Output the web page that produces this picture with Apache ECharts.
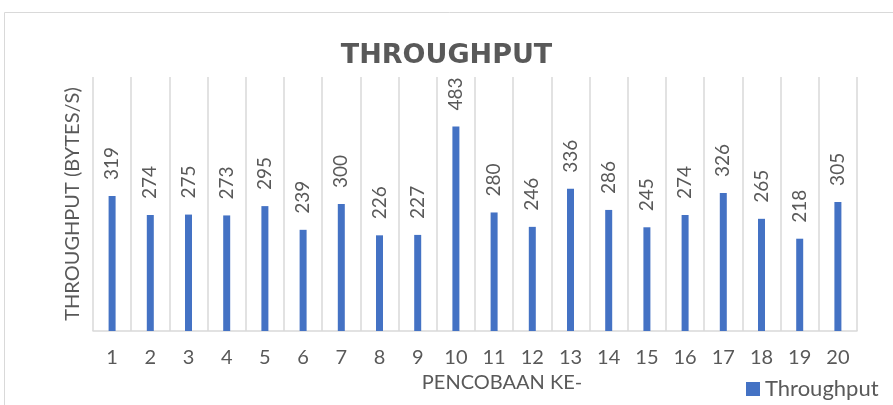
<!DOCTYPE html>
<html>
<head>
<meta charset="utf-8">
<script src="https://cdn.jsdelivr.net/npm/echarts@6/dist/echarts.min.js"></script>
<style>
  html, body { margin: 0; padding: 0; background: #fff; }
  #chart { width: 893px; height: 405px; }
</style>
</head>
<body>
<div id="chart"></div>
<script>
// data
var categories = ['1','2','3','4','5','6','7','8','9','10','11','12','13','14','15','16','17','18','19','20'];
var throughput = [319, 274, 275, 273, 295, 239, 300, 226, 227, 483, 280, 246, 336, 286, 245, 274, 326, 265, 218, 305];

var gray = '#595959';
var lineGray = '#d9d9d9';

var chart = echarts.init(document.getElementById('chart'));

var option = {
    animation: false,
    backgroundColor: '#fff',
    graphic: [{
        type: 'rect',
        shape: { x: 4.5, y: 12.5, width: 1000, height: 600 },
        style: { fill: 'none', stroke: lineGray, lineWidth: 1 }
    }],
    title: {
        text: 'THROUGHPUT',
        left: 'center',
        top: 37,
        textStyle: {
            fontFamily: 'DejaVu Sans',
            fontWeight: 'bold',
            fontSize: 27,
            color: gray
        }
    },
    legend: {
        data: ['Throughput'],
        left: 741,
        top: 373,
        itemWidth: 14,
        itemHeight: 14,
        icon: 'rect',
        itemGap: 6,
        textStyle: { fontFamily: 'Lato', fontSize: 22, color: gray }
    },
    grid: { left: 93, right: 36, top: 77, bottom: 74 },
    xAxis: {
        type: 'category',
        data: categories,
        name: 'PENCOBAAN KE-',
        nameLocation: 'middle',
        nameGap: 41,
        // the axis title sits a little right of the plot centre
        nameTextStyle: { fontFamily: 'Lato', fontSize: 20, color: gray, padding: [0, 0, 0, 54] },
        axisLine: { lineStyle: { color: lineGray, width: 1.5 } },
        axisTick: { show: false },
        axisLabel: { margin: 17, fontFamily: 'Lato', fontSize: 20, color: gray },
        splitLine: { show: true, lineStyle: { color: lineGray, width: 1.5 } }
    },
    yAxis: {
        type: 'value',
        min: 0,
        max: 600,
        name: 'THROUGHPUT (BYTES/S)',
        nameLocation: 'middle',
        nameGap: 10,
        nameTextStyle: { fontFamily: 'Lato', fontSize: 20, color: gray },
        axisLine: { show: false },
        axisTick: { show: false },
        axisLabel: { show: false },
        splitLine: { show: false }
    },
    series: [{
        name: 'Throughput',
        type: 'bar',
        data: throughput,
        barWidth: 7,
        itemStyle: { color: '#4472C4' },
        label: {
            show: true,
            position: 'top',
            rotate: 90,
            align: 'left',
            verticalAlign: 'middle',
            distance: 16,
            fontFamily: 'Lato',
            fontSize: 19,
            color: gray
        }
    }]
};

chart.setOption(option);
</script>
</body>
</html>
